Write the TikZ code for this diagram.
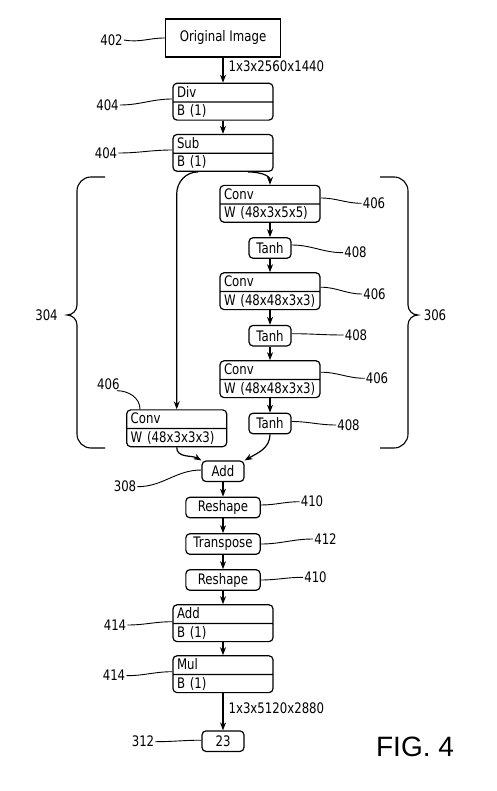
\documentclass[tikz,border=0pt]{standalone}
\usepackage{fontspec}
\setmainfont{DejaVu Sans}[FakeStretch=0.81]
\newfontfamily\figfont{Liberation Sans}
\usetikzlibrary{shapes.multipart,arrows.meta,calc}
\tikzstyle{every node}=[font=\fontsize{14.5}{17}\selectfont,inner sep=1pt]
\tikzstyle{opbox}=[draw,line width=1.2pt,rounded corners=4pt,minimum height=20.5pt,inner sep=3pt]
\tikzstyle{opsmall}=[minimum width=42pt]
\tikzstyle{opwide}=[minimum width=74.3pt]
\tikzstyle{twobox}=[draw,line width=1.2pt,rounded corners=4pt,rectangle split,rectangle split parts=2,
  text width=92pt,align=left,inner xsep=4pt,inner ysep=2pt,text height=11.5pt,text depth=2pt]
\tikzstyle{flow}=[line width=1.2pt,-{Stealth[length=8pt,width=6pt]}]
\tikzstyle{lead}=[line width=0.9pt]

\begin{document}
\begin{tikzpicture}[x=1pt,y=-1pt]
  \useasboundingbox (0,0) rectangle (497,791);
  % eje principal
  \node [draw,line width=1.2pt,minimum width=115pt,minimum height=38pt] (orig) at (223,38) {Original Image};
  \node [twobox] (div) at (223,101.7) {Div\nodepart{two}B (1)};
  \node [twobox] (sub) at (223,152.9) {Sub\nodepart{two}B (1)};
  % rama derecha
  \node [twobox] (conv1) at (270,203.8) {Conv\nodepart{two}W (48x3x5x5)};
  \node [opbox,opsmall] (tanh1) at (270,248) {Tanh};
  \node [twobox] (conv2) at (270,291.2) {Conv\nodepart{two}W (48x48x3x3)};
  \node [opbox,opsmall] (tanh2) at (270,335.7) {Tanh};
  \node [twobox] (conv3) at (270,379.2) {Conv\nodepart{two}W (48x48x3x3)};
  \node [opbox,opsmall] (tanh3) at (270,423.5) {Tanh};
  % rama izquierda
  \node [twobox] (convL) at (176.7,428.3) {Conv\nodepart{two}W (48x3x3x3)};
  \node [opbox,opsmall] (add) at (223,471.3) {Add};
  \node [opbox,opwide] (resh1) at (223,507.5) {Reshape};
  \node [opbox,opwide] (trans) at (223,544) {Transpose};
  \node [opbox,opwide] (resh2) at (223,580) {Reshape};
  \node [twobox] (addb) at (223,623.2) {Add\nodepart{two}B (1)};
  \node [twobox] (mul) at (223,674.2) {Mul\nodepart{two}B (1)};
  \node [opbox,opsmall] (res) at (223,741.2) {23};

  \draw [flow] (orig) -- node [right=4pt,pos=0.35] (dimin) {1x3x2560x1440} (div);
  \draw [flow] (div) -- (sub);
  \draw [flow] ([xshift=25pt]sub.south) to[out=0,in=90] (conv1.north);
  \draw [flow] ([xshift=-25pt]sub.south) to[out=180,in=90] ($(convL.north |- sub.south)+(0,22)$) -- (convL.north);
  \draw [flow] (conv1) -- (tanh1);
  \draw [flow] (tanh1) -- (conv2);
  \draw [flow] (conv2) -- (tanh2);
  \draw [flow] (tanh2) -- (conv3);
  \draw [flow] (conv3) -- (tanh3);
  \draw [flow] (convL.south) to[out=-90,in=150] (add.north west);
  \draw [flow] (tanh3.south) to[out=-90,in=30] (add.north east);
  \draw [flow] (add) -- (resh1);
  \draw [flow] (resh1) -- (trans);
  \draw [flow] (trans) -- (resh2);
  \draw [flow] (resh2) -- (addb);
  \draw [flow] (addb) -- (mul);
  \draw [flow] (mul) -- node [right=4pt,pos=0.41] (dimout) {1x3x5120x2880} (res);

  % llaves
  \draw [lead,line width=1.1pt] (105,177) -- (91,177) to[out=180,in=90] (77,191) -- (77,305)
    to[out=-90,in=0] (67,315) to[out=0,in=90] (77,325) -- (77,434) to[out=-90,in=180] (91,448) -- (105,448);
  \draw [lead,line width=1.1pt] (380,177) -- (394,177) to[out=0,in=90] (408,191) -- (408,305)
    to[out=-90,in=180] (418,315) to[out=180,in=90] (408,325) -- (408,434) to[out=-90,in=0] (394,448) -- (380,448);
  \node (n304) at (46.5,315) {304};
  \node (n306) at (435,315) {306};

  % referencias
  \node (n402) at (111.5,40) {402};
  \node (n404a) at (107.5,105) {404};
  \node (n404b) at (106,153) {404};
  \node (n406a) at (374,203.3) {406};
  \node (n408a) at (355.5,252.7) {408};
  \node (n406b) at (374.5,294) {406};
  \node (n408b) at (356,335) {408};
  \node (n406c) at (377,378.3) {406};
  \node (n408c) at (348.5,425) {408};
  \node (n406d) at (108.4,384) {406};
  \node (n308) at (125,486.7) {308};
  \node (n410a) at (312,501.7) {410};
  \node (n412) at (325.5,539) {412};
  \node (n410b) at (315.5,577.3) {410};
  \node (n414a) at (115,625) {414};
  \node (n414b) at (114,675.7) {414};
  \node (n312) at (143,741.7) {312};
  \draw [lead] (n402.east) to[out=-10,in=180] (orig.west);
  \draw [lead] (n404a.east) to[out=0,in=180] ([yshift=2.7pt]div.west);
  \draw [lead] (n404b.east) to[out=0,in=180] ([yshift=2.9pt]sub.west);
  \draw [lead] ([yshift=5.8pt]conv1.east) to[out=0,in=180] (n406a.west);
  \draw [lead] ([yshift=3pt]tanh1.east) to[out=0,in=180] (n408a.west);
  \draw [lead] ([yshift=4pt]conv2.east) to[out=0,in=180] (n406b.west);
  \draw [lead] ([yshift=2pt]tanh2.east) to[out=0,in=180] (n408b.west);
  \draw [lead] ([yshift=7pt]conv3.east) to[out=0,in=180] (n406c.west);
  \draw [lead] ([yshift=2pt]tanh3.east) to[out=0,in=180] (n408c.west);
  \draw [lead] ([xshift=-4pt]n406d.south east) to[out=0,in=90] ([xshift=-36.7pt]convL.north);
  \draw [lead] (n308.east) to[out=0,in=180] ([yshift=1.3pt]add.west);
  \draw [lead] ([yshift=2.5pt]resh1.east) to[out=0,in=180] (n410a.west);
  \draw [lead] (trans.east) to[out=0,in=180] (n412.west);
  \draw [lead] (resh2.east) to[out=0,in=180] (n410b.west);
  \draw [lead] (n414a.east) to[out=0,in=180] ([yshift=1.5pt]addb.west);
  \draw [lead] (n414b.east) to[out=0,in=180] ([yshift=2.5pt]mul.west);
  \draw [lead] (n312.east) to[out=0,in=180] ([yshift=1pt]res.west);

  \node [font=\figfont\fontsize{28}{30}\selectfont] (fig) at (415,747) {FIG. 4};
\end{tikzpicture}
\end{document}
